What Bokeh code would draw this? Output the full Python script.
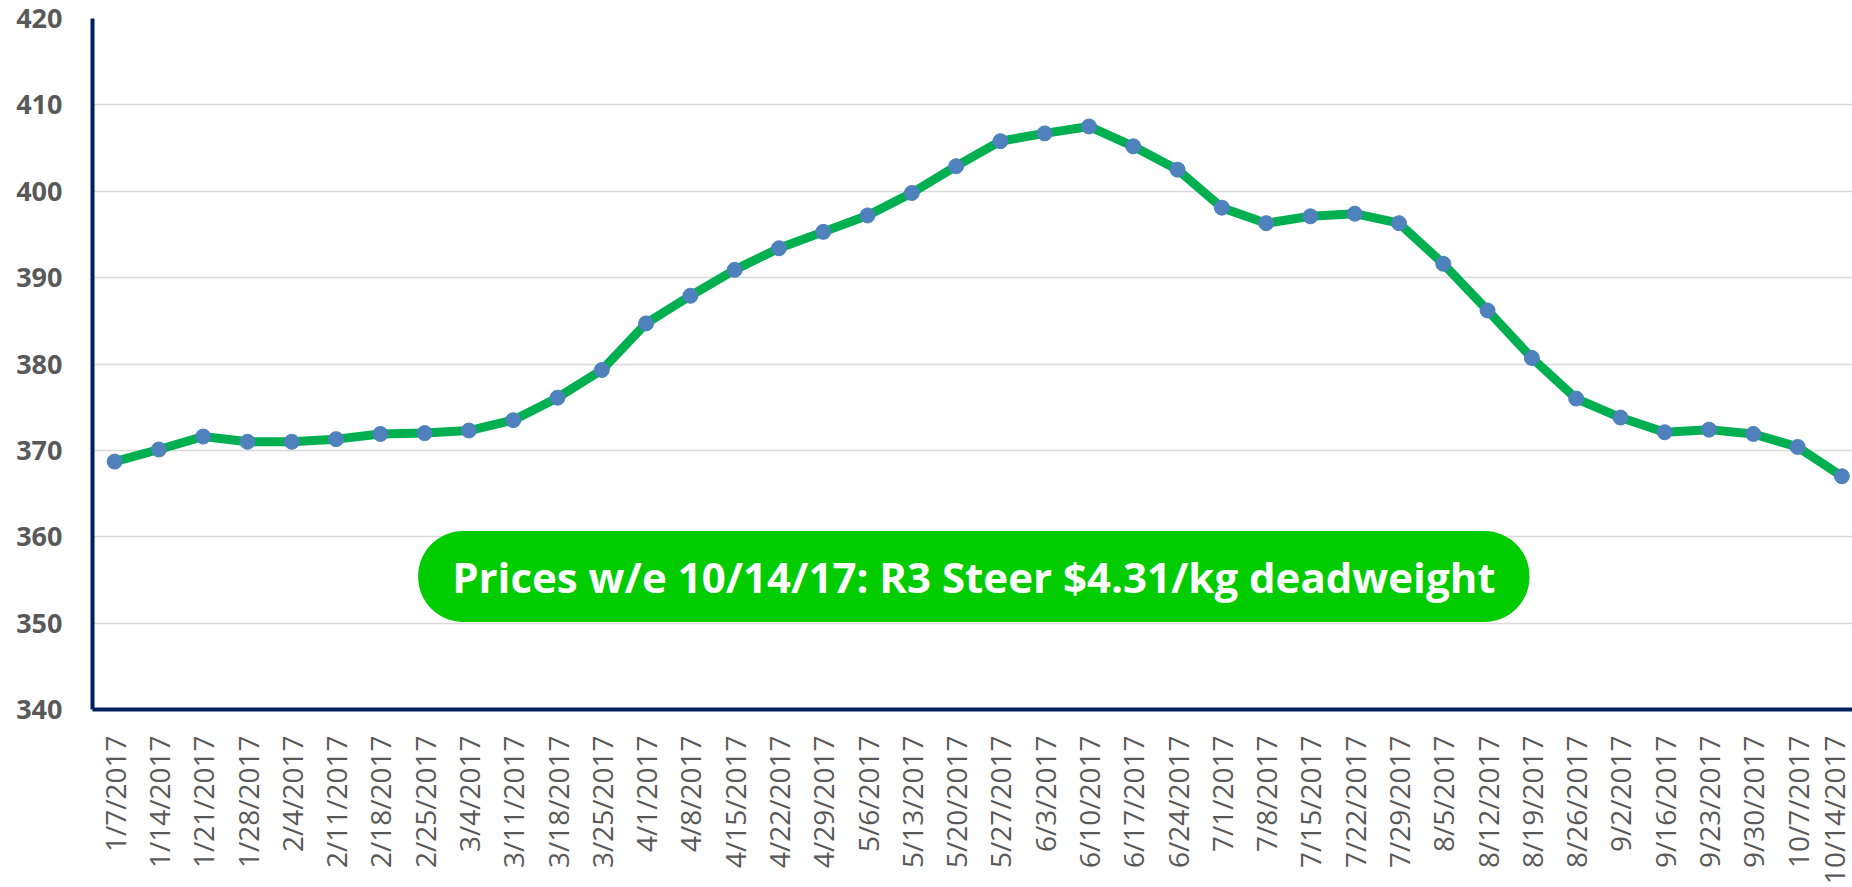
from bokeh.plotting import figure
from bokeh.models import Range1d, FixedTicker, Label, ColumnDataSource
from bokeh.embed import file_html
from bokeh.resources import INLINE
import math

weeks = ["1/7/2017", "1/14/2017", "1/21/2017", "1/28/2017", "2/4/2017", "2/11/2017",
         "2/18/2017", "2/25/2017", "3/4/2017", "3/11/2017", "3/18/2017", "3/25/2017",
         "4/1/2017", "4/8/2017", "4/15/2017", "4/22/2017", "4/29/2017", "5/6/2017",
         "5/13/2017", "5/20/2017", "5/27/2017", "6/3/2017", "6/10/2017", "6/17/2017",
         "6/24/2017", "7/1/2017", "7/8/2017", "7/15/2017", "7/22/2017", "7/29/2017",
         "8/5/2017", "8/12/2017", "8/19/2017", "8/26/2017", "9/2/2017", "9/16/2017",
         "9/23/2017", "9/30/2017", "10/7/2017", "10/14/2017"]
prices = [368.7, 370.1, 371.6, 371.0, 371.0, 371.3, 371.9, 372.0, 372.3, 373.5,
          376.1, 379.3, 384.7, 387.9, 390.9, 393.4, 395.3, 397.2, 399.8, 402.9,
          405.8, 406.7, 407.5, 405.2, 402.5, 398.1, 396.3, 397.1, 397.4, 396.3,
          391.6, 386.2, 380.7, 376.0, 373.8, 372.1, 372.4, 371.9, 370.4, 367.0]
y_ticks = [340, 350, 360, 370, 380, 390, 400, 410, 420]
note = "Prices w/e 10/14/17: R3 Steer $4.31/kg deadweight"

idx = list(range(len(weeks)))
src = ColumnDataSource(dict(x=idx, y=prices))

p = figure(width=1852, height=887, output_backend="svg", toolbar_location=None,
           x_range=Range1d(-0.5, 39.24), y_range=Range1d(340, 420),
           min_border_left=92, min_border_right=0, min_border_top=18, min_border_bottom=174)
p.outline_line_color = None
p.background_fill_color = "white"

p.line("x", "y", source=src, line_color="#00b050", line_width=9, line_join="round")
p.scatter("x", "y", source=src, size=15, fill_color="#4f81bd", line_color="#4f81bd")

p.xaxis.ticker = FixedTicker(ticks=idx)
p.xaxis.major_label_overrides = {i: w for i, w in enumerate(weeks)}
p.xaxis.major_label_orientation = math.pi / 2
p.xaxis.major_label_text_font = "Open Sans"
p.xaxis.major_label_text_font_size = "28px"
p.xaxis.major_label_text_color = "#595959"
p.xaxis.major_label_standoff = 20
p.xaxis.major_tick_line_color = None
p.xaxis.minor_tick_line_color = None
p.xaxis.axis_line_color = "#002060"
p.xaxis.axis_line_width = 4

p.yaxis.ticker = FixedTicker(ticks=y_ticks)
p.yaxis.major_label_text_font = "Open Sans"
p.yaxis.major_label_text_font_style = "bold"
p.yaxis.major_label_text_font_size = "27px"
p.yaxis.major_label_text_color = "#595959"
p.yaxis.major_label_standoff = 24
p.yaxis.major_tick_line_color = None
p.yaxis.minor_tick_line_color = None
p.yaxis.axis_line_color = "#002060"
p.yaxis.axis_line_width = 4

p.xgrid.grid_line_color = None
p.ygrid.grid_line_color = "#d9d9d9"
p.ygrid.grid_line_width = 1.5

lab = Label(x=19.4, y=355.4, text=note, text_align="center", text_baseline="middle",
            text_font="Open Sans", text_font_style="bold", text_font_size="42px",
            text_color="white", background_fill_color="#00cc00",
            padding=dict(left=34, right=34, top=17, bottom=17), border_radius=45)
p.add_layout(lab)

open("out.html", "w").write(file_html(p, INLINE))
